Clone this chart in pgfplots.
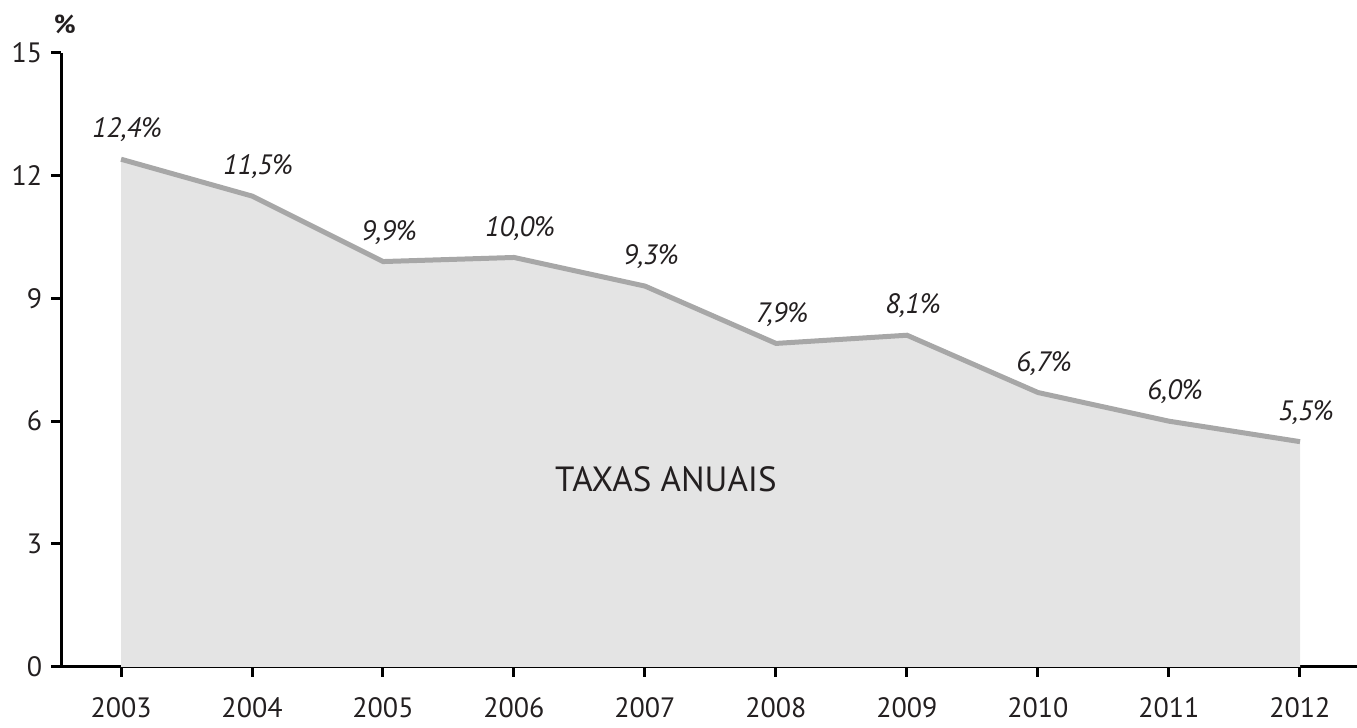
\documentclass[border=0pt]{standalone}
\usepackage{pgfplots}
\pgfplotsset{compat=1.18}
\usepackage{fontspec}
\setmainfont{PT Sans}
\definecolor{txt}{HTML}{231F20}
\definecolor{linegray}{HTML}{A7A7A7}
\definecolor{areagray}{HTML}{E4E4E4}
\begin{document}
\begin{tikzpicture}
\begin{axis}[
    scale only axis,
    width=648pt, height=307pt,
    xmin=2002.542, xmax=2012.435,
    ymin=0, ymax=15,
    axis x line=bottom, axis y line=left,
    axis line style={-, line width=1.5pt, black},
    every tick/.style={black, line width=1.5pt},
    major tick length=5pt,
    tick align=outside,
    xtick={2003,...,2012},
    ytick={0,3,...,15},
    xticklabel style={yshift=-7pt},
    yticklabel style={xshift=-1pt},
    /pgf/number format/1000 sep={},
    /pgf/number format/assume math mode=true,
    tick label style={font=\fontsize{14}{16}\selectfont, text=txt},
    clip=false,
]
\addplot[draw=none, fill=areagray] coordinates {
  (2003,0) (2003,12.4) (2004,11.5) (2005,9.9) (2006,10.0) (2007,9.3)
  (2008,7.9) (2009,8.1) (2010,6.7) (2011,6.0) (2012,5.5) (2012,0)
} \closedcycle;
\addplot[color=linegray, line width=2.5pt, mark=none,
  nodes near coords={\pgfmathprintnumber[fixed, fixed zerofill, precision=1, use comma]{\pgfplotspointmeta}\%},
  every node near coord/.style={font=\itshape\fontsize{14}{16}\selectfont, text=txt, anchor=south, yshift=4pt, xshift=3pt},
  point meta=explicit symbolic] table[meta=y] {
x y
2003 12.4
2004 11.5
2005 9.9
2006 10.0
2007 9.3
2008 7.9
2009 8.1
2010 6.7
2011 6.0
2012 5.5
};
\node[font=\fontsize{17.5}{20}\selectfont, text=txt] at (axis cs:2007.16,4.57) {TAXAS ANUAIS};
\node[font=\bfseries\fontsize{13}{15}\selectfont, text=txt] at (axis cs:2002.57,15.7) {\%};
\coordinate (bl) at (axis cs:2002.076,-1.49);
\coordinate (tr) at (axis cs:2012.435,16.29);
\end{axis}
\pgfresetboundingbox
\path[use as bounding box] (bl) rectangle (tr);
\end{tikzpicture}
\end{document}
